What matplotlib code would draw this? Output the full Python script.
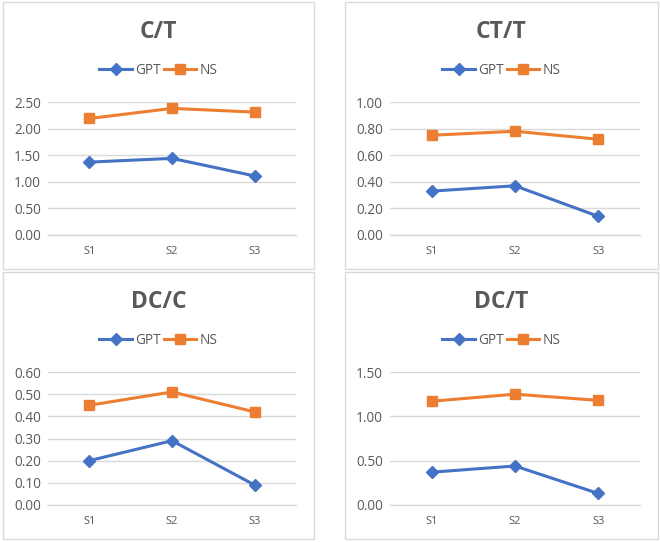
import matplotlib
matplotlib.use("Agg")
import matplotlib.pyplot as plt
from matplotlib.patches import Rectangle

plt.rcParams['font.family'] = ['Open Sans', 'DejaVu Sans']

categories = ["S1", "S2", "S3"]
titles = ["C/T", "CT/T", "DC/C", "DC/T"]

gpt_ct = [1.37, 1.44, 1.11]
ns_ct = [2.19, 2.38, 2.31]

gpt_ctt = [0.33, 0.37, 0.14]
ns_ctt = [0.75, 0.78, 0.72]

gpt_dcc = [0.20, 0.29, 0.09]
ns_dcc = [0.45, 0.51, 0.42]

gpt_dct = [0.37, 0.44, 0.13]
ns_dct = [1.17, 1.25, 1.18]

yticks_ct = [0.0, 0.5, 1.0, 1.5, 2.0, 2.5]
yticks_ctt = [0.0, 0.2, 0.4, 0.6, 0.8, 1.0]
yticks_dcc = [0.0, 0.1, 0.2, 0.3, 0.4, 0.5, 0.6]
yticks_dct = [0.0, 0.5, 1.0, 1.5]

W, H = 660, 542
fig = plt.figure(figsize=(W / 100, H / 100), dpi=100)
fig.patch.set_facecolor("white")

BLUE = "#4472C4"
ORANGE = "#ED7D31"
GRID = "#D9D9D9"
TEXT = "#595959"

# panel boxes (pixel coords: x0, y0, x1, y1)
boxes = [(3, 2, 314, 269), (345, 2, 658, 269), (3, 272, 314, 539), (345, 272, 658, 539)]
# plot areas (x0, y_top, x1, y_bottom)
areas = [(48, 102, 296, 235), (390, 102, 640, 235), (48, 372, 296, 505), (390, 372, 640, 505)]

series = [(gpt_ct, ns_ct, yticks_ct), (gpt_ctt, ns_ctt, yticks_ctt),
          (gpt_dcc, ns_dcc, yticks_dcc), (gpt_dct, ns_dct, yticks_dct)]

for i in range(4):
    bx0, by0, bx1, by1 = boxes[i]
    rect = Rectangle((bx0 / W, 1 - by1 / H), (bx1 - bx0) / W, (by1 - by0) / H,
                     transform=fig.transFigure, fill=False, edgecolor=GRID, linewidth=1.0)
    fig.patches.append(rect)

    ax0, ay0, ax1, ay1 = areas[i]
    ax = fig.add_axes([ax0 / W, 1 - ay1 / H, (ax1 - ax0) / W, (ay1 - ay0) / H])
    gpt, ns, yt = series[i]
    x = list(range(len(categories)))
    l1, = ax.plot(x, gpt, color=BLUE, linewidth=2.2, marker="D", markersize=6.5, label="GPT", zorder=3)
    l2, = ax.plot(x, ns, color=ORANGE, linewidth=2.2, marker="s", markersize=7.5, label="NS", zorder=3)
    ax.set_xlim(-0.5, len(categories) - 0.5)
    ax.set_ylim(yt[0], yt[-1])
    ax.set_yticks(yt)
    ax.set_yticklabels([f"{v:.2f}" for v in yt])
    ax.set_xticks(x)
    ax.set_xticklabels(categories)
    ax.grid(axis="y", color=GRID, linewidth=1.0)
    ax.set_axisbelow(True)
    for s in ["left", "right", "top"]:
        ax.spines[s].set_visible(False)
    ax.spines["bottom"].set_color(GRID)
    ax.spines["bottom"].set_linewidth(1.0)
    ax.tick_params(axis="both", length=0, colors=TEXT)
    ax.tick_params(axis="y", labelsize=9.8, pad=5)
    ax.tick_params(axis="x", labelsize=8, pad=8)

    cx = (bx0 + bx1) / 2
    fig.text(cx / W, 1 - (by0 + 30) / H, titles[i], ha="center", va="center",
             fontsize=16.5, fontweight="bold", color=TEXT)
    ax.legend(handles=[l1, l2], loc="center", bbox_to_anchor=(cx / W, 1 - (by0 + 68) / H),
              bbox_transform=fig.transFigure, ncol=2, frameon=False, fontsize=9.8,
              handlelength=2.4, columnspacing=0.2, handletextpad=0.25, labelcolor=TEXT)

fig.savefig("out.png", dpi=100, facecolor="white")
